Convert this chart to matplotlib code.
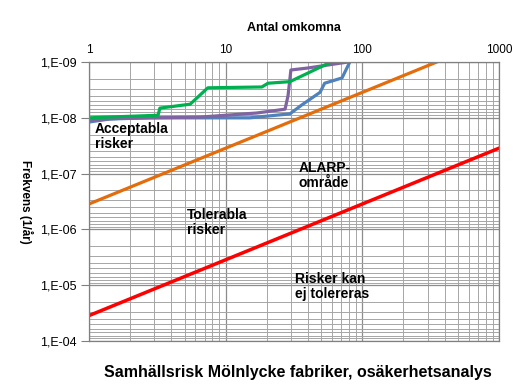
import numpy as np
import matplotlib
matplotlib.use('Agg')
import matplotlib.pyplot as plt
from matplotlib.ticker import LogLocator, FuncFormatter, NullFormatter

plt.rcParams['font.family'] = ['Liberation Sans', 'DejaVu Sans']

# F-N curves (antal omkomna, frekvens 1/år)
green_n = [1, 3.2, 3.3, 5.5, 7.4, 18.4, 20.4, 29.5, 59]
green_f = [1.0e-8, 9.0e-9, 6.7e-9, 5.7e-9, 2.9e-9, 2.8e-9, 2.4e-9, 2.25e-9, 1.0e-9]

purple_n = [1, 1.7, 6.5, 16.9, 27.2, 28.6, 30, 40, 78.5]
purple_f = [1.1e-8, 1.02e-8, 9.7e-9, 8.2e-9, 7.0e-9, 4.0e-9, 1.39e-9, 1.28e-9, 1.0e-9]

blue_n = [1, 1.42, 2.8, 15, 29.5, 36, 49, 53, 71, 81]
blue_f = [1.19e-8, 1.05e-8, 1.0e-8, 1.0e-8, 8.5e-9, 5.9e-9, 3.5e-9, 2.4e-9, 1.93e-9, 1.0e-9]

# criteria lines (slope -1)
crit_n = [1, 1000]
upper_f = [3.5e-5, 3.5e-8]
lower_f = [3.5e-7, 3.5e-10]

fig = plt.figure(figsize=(5.28, 3.9), dpi=100)
ax = fig.add_axes([0.1686, 0.1256, 0.7765, 0.7154])

ax.plot(crit_n, lower_f, color='#E46C0A', lw=2.3)
ax.plot(crit_n, upper_f, color='#FF0000', lw=2.5)
ax.plot(blue_n, blue_f, color='#4F81BD', lw=2.3)
ax.plot(purple_n, purple_f, color='#8064A2', lw=2.3)
ax.plot(green_n, green_f, color='#00B050', lw=2.3)

ax.set_xscale('log')
ax.set_yscale('log')
ax.set_xlim(1, 1000)
ax.set_ylim(1e-4, 1e-9)

ax.xaxis.set_major_locator(LogLocator(base=10))
ax.xaxis.set_minor_locator(LogLocator(base=10, subs=np.arange(2, 10)))
ax.yaxis.set_major_locator(LogLocator(base=10))
ax.yaxis.set_minor_locator(LogLocator(base=10, subs=np.arange(2, 10)))
ax.xaxis.set_minor_formatter(NullFormatter())
ax.yaxis.set_minor_formatter(NullFormatter())
ax.xaxis.set_major_formatter(FuncFormatter(lambda v, p: '%d' % round(v)))
ax.yaxis.set_major_formatter(FuncFormatter(lambda v, p: '1,E-%02d' % round(-np.log10(v))))

ax.xaxis.tick_top()
ax.xaxis.set_label_position('top')
ax.tick_params(axis='y', which='major', length=6, width=0.8, color='#808080', labelsize=9, pad=3)
ax.tick_params(axis='x', which='major', length=0, labelsize=8.5, pad=4)
ax.tick_params(which='minor', length=0)

ax.grid(True, which='major', color='#8c8c8c', lw=0.9)
ax.grid(True, which='minor', color='#a6a6a6', lw=0.7)
for s in ax.spines.values():
    s.set_color('#808080')
    s.set_linewidth(0.9)

ax.set_xlabel('Antal omkomna', fontsize=9, fontweight='bold', labelpad=10)
ax.set_ylabel('Frekvens (1/år)', fontsize=8.5, fontweight='bold', rotation=270)
ax.yaxis.set_label_coords(-0.172, 0.5)

fig.text(0.564, 0.046, 'Samhällsrisk Mölnlycke fabriker, osäkerhetsanalys',
         ha='center', va='center', fontsize=11.5, fontweight='bold')

kw = dict(fontsize=10, fontweight='bold', ha='left', va='center', linespacing=1.1)
ax.text(1.1, 2.2e-8, 'Acceptabla\nrisker', **kw)
ax.text(34, 1.07e-7, 'ALARP-\nområde', **kw)
ax.text(5.2, 7.5e-7, 'Tolerabla\nrisker', **kw)
ax.text(32, 1.05e-5, 'Risker kan\nej tolereras', **kw)

fig.savefig('out.png', dpi=100, facecolor='white')
